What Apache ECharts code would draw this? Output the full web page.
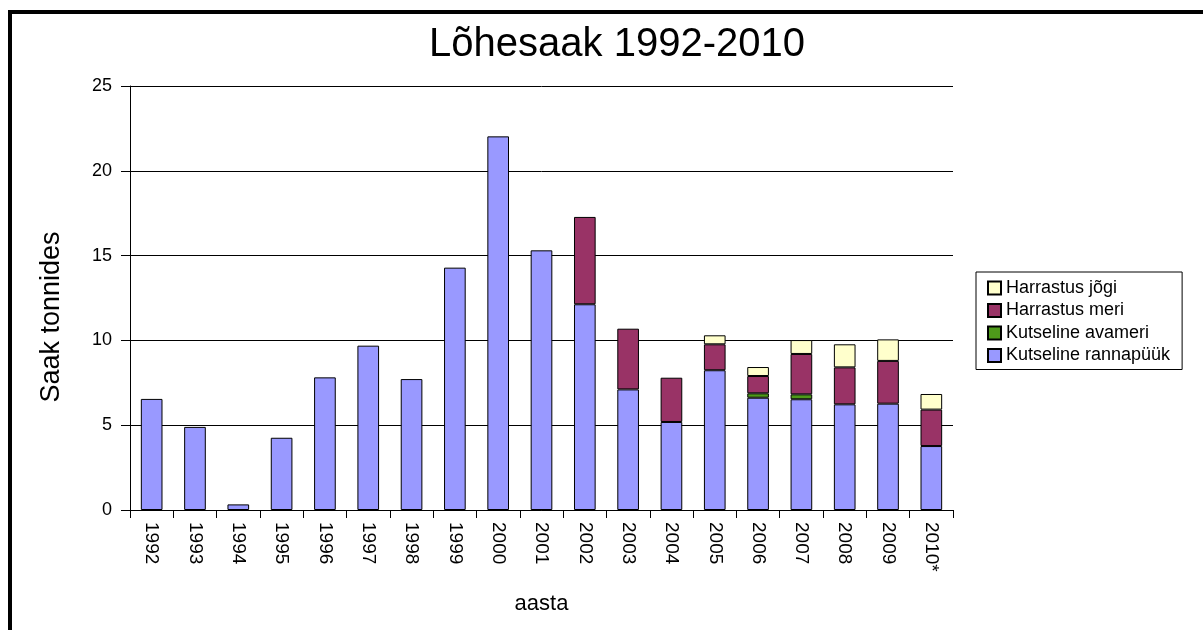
<!DOCTYPE html>
<html>
<head>
<meta charset="utf-8">
<script src="https://cdn.jsdelivr.net/npm/echarts@6/dist/echarts.min.js"></script>
<style>
html,body{margin:0;padding:0;background:#fff;}
#chart{width:1203px;height:630px;}
</style>
</head>
<body>
<div id="chart"></div>
<script>
const categories = ['1992','1993','1994','1995','1996','1997','1998','1999','2000','2001','2002','2003','2004','2005','2006','2007','2008','2009','2010*'];
const rannapuuk = [6.55,4.9,0.33,4.26,7.82,9.69,7.72,14.29,22.03,15.31,12.13,7.11,5.19,8.24,6.62,6.53,6.23,6.27,3.77];
const avameri   = [null,null,null,null,null,null,null,null,null,null,null,null,null,null,0.26,0.29,null,null,null];
const meri      = [null,null,null,null,null,null,null,null,null,null,5.15,3.58,2.61,1.53,1.02,2.38,2.18,2.52,2.15];
const jogi      = [null,null,null,null,null,null,null,null,null,null,null,null,null,0.53,0.53,0.82,1.36,1.27,0.92];
const yTicks = [0,5,10,15,20,25];

const FONT = '"Liberation Sans", Arial, sans-serif';
const chart = echarts.init(document.getElementById('chart'), null, {renderer:'canvas'});

function bar(name, data, color){
  return {
    name: name, type: 'bar', stack: 'total', data: data, barWidth: '50%',
    itemStyle: {color: color, borderColor: '#000', borderWidth: 1},
    emphasis: {disabled: true}
  };
}

chart.setOption({
  animation: false,
  backgroundColor: '#fff',
  title: {
    text: 'Lõhesaak 1992-2010', left: 612, textAlign: 'center', top: 20,
    textStyle: {fontFamily: FONT, fontSize: 40, fontWeight: 'normal', color: '#000'}
  },
  graphic: [
    {type: 'line', shape: {x1: 8, y1: 12, x2: 1203, y2: 12}, style: {stroke: '#000', lineWidth: 4}},
    {type: 'line', shape: {x1: 10, y1: 10, x2: 10, y2: 630}, style: {stroke: '#000', lineWidth: 4}},
    {type: 'text', x: 52, y: 317, rotation: Math.PI / 2,
      style: {text: 'Saak tonnides', font: '27px "Liberation Sans", Arial, sans-serif', fill: '#000',
        textAlign: 'center', textVerticalAlign: 'middle'}}
  ],
  legend: {
    orient: 'vertical', left: 976, top: 272,
    padding: [7, 12, 5, 11],
    borderColor: '#000', borderWidth: 1,
    itemWidth: 13, itemHeight: 13, itemGap: 4.5,
    icon: 'rect',
    data: ['Harrastus jõgi','Harrastus meri','Kutseline avameri','Kutseline rannapüük'],
    textStyle: {fontFamily: FONT, fontSize: 18, color: '#000', lineHeight: 16}
  },
  grid: {left: 130, right: 250, top: 86, bottom: 120},
  xAxis: {
    type: 'category', data: categories,
    name: 'aasta', nameLocation: 'middle', nameGap: 83,
    nameTextStyle: {fontFamily: FONT, fontSize: 22, color: '#000'},
    axisLine: {lineStyle: {color: '#000', width: 1}},
    axisTick: {show: true, length: 8, lineStyle: {color: '#000'}},
    axisLabel: {rotate: -90, margin: 12, fontFamily: FONT, fontSize: 19, color: '#000'}
  },
  yAxis: {
    type: 'value', min: 0, max: 25, interval: 5,
    axisLine: {show: true, lineStyle: {color: '#000', width: 1}},
    axisTick: {show: true, length: 9, lineStyle: {color: '#000'}},
    axisLabel: {margin: 18, fontFamily: FONT, fontSize: 18, color: '#000',
      formatter: v => yTicks.indexOf(v) >= 0 ? String(v) : ''},
    splitLine: {show: true, lineStyle: {color: '#000', width: 1}}
  },
  series: [
    bar('Kutseline rannapüük', rannapuuk, '#9999FF'),
    bar('Kutseline avameri', avameri, '#4E9A1A'),
    bar('Harrastus meri', meri, '#993366'),
    bar('Harrastus jõgi', jogi, '#FFFFCC')
  ]
});
</script>
</body>
</html>
